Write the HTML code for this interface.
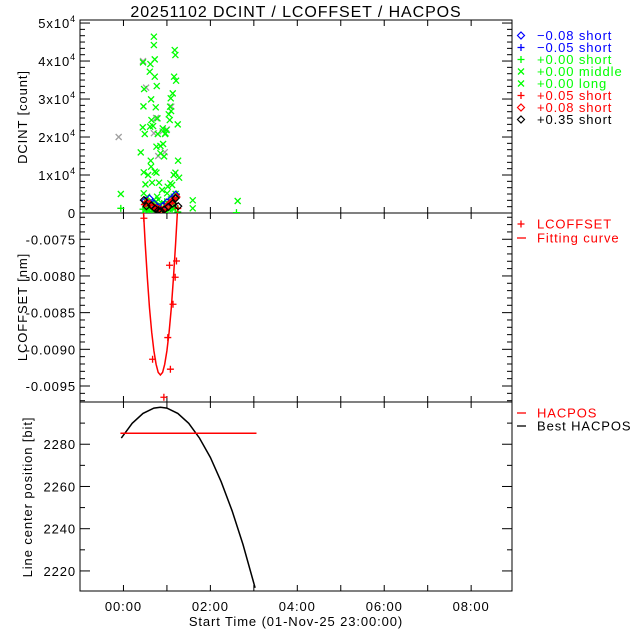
<!DOCTYPE html>
<html><head><meta charset="utf-8"><style>
body{margin:0;background:#fff;}
svg{display:block;font-family:"Liberation Sans",sans-serif;}
text{letter-spacing:0.9px;}
</style></head><body>
<svg id="c" width="640" height="640" viewBox="0 0 640 640"></svg>
<script>
// ---- data ----
const xTickHours = [0,2,4,6,8];
const xTickLabels = ["00:00","02:00","04:00","06:00","08:00"];
const dcintTicks = [0,10000,20000,30000,40000,50000];
const dcintTickLabels = ["0","1x10","2x10","3x10","4x10","5x10"];
const lcTicks = [-0.0075,-0.0080,-0.0085,-0.0090,-0.0095];
const lcTickLabels = ["-0.0075","-0.0080","-0.0085","-0.0090","-0.0095"];
const hcTicks = [2220,2240,2260,2280];
const hcTickLabels = ["2220","2240","2260","2280"];

const greenXHours = [0.70,0.70,0.72,0.45,0.62,0.605,0.72,0.766,0.475,0.636,0.46,0.743,0.644,0.782,0.444,0.613,0.682,0.49,0.904,0.958,0.79,0.851,0.912,0.759,0.851,0.935,0.398,0.628,0.636,0.759,0.72,0.567,0.467,0.82,0.659,0.506,-0.061,1.18,1.195,1.165,1.211,1.134,1.088,1.073,1.042,1.096,1.249,1.065,0.989,0.966,1.257,1.28,1.195,1.157,1.08,1.019,1.119,1.594,1.594,2.628,0.467,0.544,0.889,0.774,1.004,0.55,0.65,0.75,1.1,1.2,0.5,0.95,1.15,0.6,0.8];
const greenXValues = [46400,44200,40440,39650,39210,37190,35880,33420,32630,29910,28070,27810,24470,24910,22540,22720,22890,20790,22280,20790,20790,17630,18160,17460,15700,14910,15960,13770,12190,10610,10880,10000,10700,7980,7980,7540,5000,42890,41580,35880,34820,31490,30180,27980,25970,26840,23330,24470,21840,20960,13770,9300,10610,10000,7810,6930,7370,3330,1230,3160,5180,4300,6050,4300,5180,1500,2500,3000,2000,5000,800,600,1200,2000,3500];
const grayXHours = [-0.11,0.45,0.52,0.7,0.75,0.8,0.9,0.95,1.0,1.1];
const grayXValues = [20000,40000,33000,21000,25000,15000,21500,16000,22000,28000];
const greenPlusHours = [-0.061,0.45,0.5,0.52,0.55,0.58,0.6,0.62,0.65,0.68,0.7,0.72,0.75,0.78,0.8,0.85,0.88,0.9,0.93,0.95,0.98,1.0,1.02,1.05,1.08,1.1,1.12,1.15,1.18,1.2,1.22,1.25,2.6];
const greenPlusValues = [1230,1000,2500,500,3500,1500,800,2800,400,3000,1200,600,2200,300,1800,700,2500,400,1500,3000,900,2000,600,3500,1200,4200,800,2600,3800,1500,5000,300,100];
const blueDiamondHours = [0.5,0.6,0.7,0.8,0.9,1.0,1.1,1.2];
const blueDiamondValues = [3200,3800,2500,1500,1800,2800,3600,4800];
const redPlusHours = [0.48,0.55,0.62,0.7,0.78,0.85,0.92,1.0,1.06,1.12,1.18,1.25];
const redPlusValues = [2200,3000,2000,1500,1200,600,900,1800,2600,3200,4000,1200];
const redDiamondHours = [0.52,0.6,0.68,0.75,0.82,0.88,0.95,1.02,1.1,1.16,1.22];
const redDiamondValues = [2600,2400,1700,1300,900,800,1100,2000,2900,3400,4200];
const blackDiamondHours = [0.47,0.53,0.64,0.73,0.8,0.86,0.94,1.03,1.13,1.2,1.26];
const blackDiamondValues = [3400,1800,2000,1100,700,500,900,1600,2500,3900,1800];

const lcPointHours = [0.47,1.06,1.22,1.19,1.14,1.02,0.67,1.08,0.93];
const lcPointValues = [-0.007214,-0.007854,-0.007796,-0.008018,-0.008386,-0.00884,-0.009135,-0.009271,-0.009653];
const fitHours = [0.46,0.5,0.55,0.6,0.65,0.7,0.75,0.8,0.85,0.9,0.95,1.0,1.05,1.1,1.15,1.2,1.24];
const fitValues = [-0.00713,-0.00756,-0.008036,-0.008437,-0.008766,-0.009021,-0.009204,-0.009314,-0.00935,-0.009314,-0.009204,-0.009021,-0.008766,-0.008437,-0.008036,-0.00756,-0.00713];

const bestHours = [-0.05,0.2,0.45,0.7,0.85,1.0,1.25,1.5,1.75,2.0,2.25,2.5,2.75,3.03];
const bestValues = [2282.9,2289.9,2294.6,2297.1,2297.5,2297.1,2294.6,2289.9,2282.9,2273.7,2262.2,2248.5,2232.5,2212];
const hacposHours = [-0.07,3.06];
const hacposValues = [2285.2,2285.2];

// ---- layout ----
const svg=document.getElementById('c');
const NS='http://www.w3.org/2000/svg';
const L=80,R=512;
const X0=-1,X1=8.94;
const sx=h=>L+(h-X0)/(X1-X0)*(R-L);
const P1={t:20,b:213,min:0,max:50800};
const P2={t:213,b:402,min:-0.009718,max:-0.007142};
const P3={t:402,b:591,min:2210.5,max:2300};
const sy=(p,v)=>p.b-(v-p.min)/(p.max-p.min)*(p.b-p.t);
function el(tag,attrs,parent){const e=document.createElementNS(NS,tag);for(const k in attrs)e.setAttribute(k,attrs[k]);(parent||svg).appendChild(e);return e;}
function txt(s,x,y,attrs,parent){const t=el('text',Object.assign({x:x,y:y,'font-size':13,fill:'#000'},attrs||{}),parent);t.textContent=s;return t;}
function clip(id,p){const c=el('clipPath',{id:id});el('rect',{x:L,y:p.t,width:R-L,height:p.b-p.t},c);}
clip('c1',P1);clip('c2',P2);clip('c3',P3);

// title
const title=txt('20251102 DCINT / LCOFFSET / HACPOS',296,17,{'text-anchor':'middle','font-size':16,'letter-spacing':'1.8px'});



// frames & ticks
function panel(p,name,ticks,labels,minorStep,majorStep){
  const g=el('g',{});
  
  
  el('rect',{x:L,y:p.t,width:R-L,height:p.b-p.t,fill:'none',stroke:'#000','stroke-width':1},g);
  for(let h=-1;h<=8.94;h+=1){const x=sx(h);
    el('line',{x1:x,y1:p.t,x2:x,y2:p.t+6,stroke:'#000'},g);
    el('line',{x1:x,y1:p.b,x2:x,y2:p.b-6,stroke:'#000'},g);}
  const lo=Math.ceil(p.min/minorStep-1e-6);const hi=Math.floor(p.max/minorStep+1e-6);
  for(let i=lo;i<=hi;i++){const v=i*minorStep;const y=sy(p,v);
    const major=Math.abs(v/majorStep-Math.round(v/majorStep))<1e-6;const len=major?10:5;
    el('line',{x1:L,y1:y,x2:L+len,y2:y,stroke:'#000'},g);
    el('line',{x1:R,y1:y,x2:R-len,y2:y,stroke:'#000'},g);}
  ticks.forEach((v,i)=>{const y=sy(p,v);
    const t=txt(labels[i],76,y+5,{'text-anchor':'end'},g);
    
    
    if(name==='dcint'&&v!==0){const s=el('tspan',{'font-size':9,dy:-6},t);s.textContent='4';}
  });
  return g;
}
panel(P1,'dcint',dcintTicks,dcintTickLabels,10000/6,10000);
panel(P2,'lcoffset',lcTicks,lcTickLabels,0.0001,0.0005);
panel(P3,'hacpos',hcTicks,hcTickLabels,10,20);

// x labels
xTickHours.forEach((h,i)=>{const t=txt(xTickLabels[i],sx(h),611,{'text-anchor':'middle'});
  
  });
const xt=txt('Start Time (01-Nov-25 23:00:00)',296,626,{'text-anchor':'middle'});


function ytitle(s,cx,cy,name){const t=txt(s,cx,cy,{'text-anchor':'middle',transform:'rotate(-90 '+cx+' '+cy+')'});
  
  }
ytitle('DCINT [count]',27,117,'dcint-axis-title');
ytitle('LCOFFSET [nm]',27,307,'lcoffset-axis-title');
ytitle('Line center position [bit]',32,497,'hacpos-axis-title');

// markers
function marker(type,x,y,color,g){
  if(type==='x'){el('path',{d:`M${x-3},${y-3}L${x+3},${y+3}M${x-3},${y+3}L${x+3},${y-3}`,stroke:color,'stroke-width':1.3,fill:'none'},g);}
  else if(type==='+'){el('path',{d:`M${x-3.5},${y}L${x+3.5},${y}M${x},${y-3.5}L${x},${y+3.5}`,stroke:color,'stroke-width':1.3,fill:'none'},g);}
  else {el('path',{d:`M${x},${y-3.5}L${x+3.5},${y}L${x},${y+3.5}L${x-3.5},${y}Z`,stroke:color,'stroke-width':1.2,fill:'none'},g);}
}
function series(name,hs,vs,p,type,color,clipId){
  const g=el('g',{'clip-path':'url(#'+clipId+')'});
  
  
  hs.forEach((h,i)=>marker(type,sx(h),sy(p,vs[i]),color,g));
}
series('gray-x-series',grayXHours,grayXValues,P1,'x','#a0a0a0','c1');
series('green-x-series',greenXHours,greenXValues,P1,'x','#00ff00','c1');
series('green-plus-series',greenPlusHours,greenPlusValues,P1,'+','#00ff00','c1');
series('blue-diamond-series',blueDiamondHours,blueDiamondValues,P1,'d','#0000ff','c1');
series('red-plus-series',redPlusHours,redPlusValues,P1,'+','#ff0000','c1');
series('red-diamond-series',redDiamondHours,redDiamondValues,P1,'d','#ff0000','c1');
series('black-diamond-series',blackDiamondHours,blackDiamondValues,P1,'d','#000000','c1');

function line(name,hs,vs,p,color,clipId){
  const d=hs.map((h,i)=>(i?'L':'M')+sx(h).toFixed(1)+','+sy(p,vs[i]).toFixed(1)).join('');
  const e=el('path',{d:d,stroke:color,'stroke-width':1.5,fill:'none','clip-path':'url(#'+clipId+')'});
  
  
}
line('fitting-curve',fitHours,fitValues,P2,'#ff0000','c2');
series('lcoffset-points',lcPointHours,lcPointValues,P2,'+','#ff0000','c2');
line('best-hacpos-curve',bestHours,bestValues,P3,'#000000','c3');
line('hacpos-line',hacposHours,hacposValues,P3,'#ff0000','c3');

// legends
function legend(items,y0,dy,name){
  const g=el('g',{});
  
  
  items.forEach((it,i)=>{const y=y0+i*dy;
    if(it[0]==='-')el('line',{x1:517,y1:y,x2:526,y2:y,stroke:it[2],'stroke-width':1.3},g);
    else marker(it[0],521,y,it[2],g);
    const t=txt(it[1],537,y+4.5,{fill:it[2],'font-size':13,'letter-spacing':'1.3px'},g);
    
    });
}
legend([['d','\u22120.08 short','#0000ff'],['+','\u22120.05 short','#0000ff'],['+','+0.00 short','#00ff00'],['x','+0.00 middle','#00ff00'],['x','+0.00 long','#00ff00'],['+','+0.05 short','#ff0000'],['d','+0.08 short','#ff0000'],['d','+0.35 short','#000000']],35.5,12,'dcint-legend');
legend([['+','LCOFFSET','#ff0000'],['-','Fitting curve','#ff0000']],224,14,'lcoffset-legend');
legend([['-','HACPOS','#ff0000'],['-','Best HACPOS','#000000']],413,13,'hacpos-legend');
</script>
</body></html>
